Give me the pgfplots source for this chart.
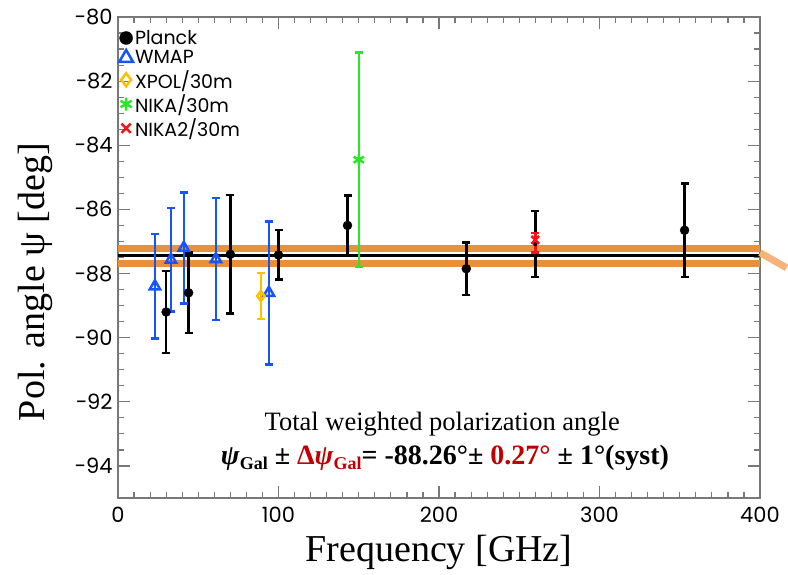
\documentclass[border=0pt]{standalone}
\usepackage{fontspec}
\setmainfont{Liberation Serif}
\newfontfamily\tickfont{Poppins}
\usepackage{pgfplots}
\pgfplotsset{compat=1.18}
\usetikzlibrary{calc}

\definecolor{wblue}{RGB}{20,85,255}
\definecolor{xgold}{RGB}{255,192,0}
\definecolor{ngreen}{RGB}{40,230,40}
\definecolor{nred}{RGB}{245,20,20}
\definecolor{band}{RGB}{232,145,58}
\definecolor{bandlt}{RGB}{245,178,122}
\definecolor{dred}{RGB}{192,0,0}
\definecolor{axgray}{RGB}{120,120,120}

% frequency [GHz], angle [deg], error [deg]
\pgfplotstableread{
f    v       e
30   -89.2   1.28
44   -88.6   1.25
70   -87.4   1.85
100  -87.42  0.77
143  -86.5   0.93
217  -87.85  0.82
353  -86.65  1.46
}\planck
\pgfplotstableread{
f    v       e
23   -88.4   1.63
33   -87.57  1.62
41   -87.2   1.73
61   -87.55  1.9
94   -88.6   2.23
}\wmap

\begin{document}
\begin{tikzpicture}
\begin{axis}[
  name=ax,
  scale only axis,
  width=642pt, height=481pt,
  xmin=0, xmax=400, ymin=-95, ymax=-80,
  xtick={0,100,200,300,400},
  xticklabels={0,100,200,300,400},
  ytick={-94,-92,-90,-88,-86,-84,-82,-80},
  yticklabels={−94,−92,−90,−88,−86,−84,−82,−80},
  minor x tick num=9,
  minor y tick num=3,
  major tick length=12pt,
  minor tick length=6pt,
  tick style={axgray, line width=1.2pt},
  axis line style={axgray, line width=1.5pt},
  tick label style={font=\tickfont\fontsize{21}{21}\selectfont},
  xticklabel style={yshift=-8pt, inner ysep=1pt},
  yticklabel style={xshift=-2pt},
  xlabel={Frequency [GHz]},
  ylabel={Pol. angle ψ [deg]},
  every axis x label/.style={at={(axis description cs:0.5,-0.113)}, anchor=center,
    font=\fontsize{38}{38}\selectfont, inner sep=0pt},
  every axis y label/.style={at={(axis description cs:-0.129,0.449)}, rotate=90, anchor=center,
    font=\fontsize{38}{38}\selectfont},
  clip=false,
  legend style={at={(axis description cs:0,1)}, anchor=north west,
    xshift=1pt, yshift=-11pt, draw=none, fill=none,
    font=\tickfont\fontsize{19}{21}\selectfont, cells={anchor=west},
    row sep=0.8pt, inner xsep=0pt, inner ysep=0pt},
  legend image code/.code={\draw[#1] plot coordinates {(6pt,0pt)};},
  error bars/y dir=both, error bars/y explicit,
  every error bar/.style={line width=2.5pt},
  error bars/error mark options={rotate=90, mark size=4pt, line width=2.5pt},
]
% weighted mean and its uncertainty band
\addplot[band, line width=7pt, forget plot] coordinates {(0,-87.21) (400,-87.21)};
\addplot[band, line width=7pt, forget plot] coordinates {(0,-87.68) (400,-87.68)};
\addplot[black, line width=3.5pt, forget plot] coordinates {(0,-87.44) (400,-87.44)};
\addplot[bandlt, line width=7pt, forget plot] coordinates {(400,-87.35) (416.5,-87.82)};

\addplot[black, only marks, mark=*, mark size=4.5pt, forget plot]
  table[x=f, y=v, y error=e] {\planck};

\addplot[wblue, only marks, mark=triangle, mark size=6pt, mark options={line width=2.5pt}, forget plot]
  table[x=f, y=v, y error=e] {\wmap};

\addplot[xgold, only marks, mark=diamond, mark size=5pt, mark options={line width=2.5pt}, forget plot]
  coordinates {(89,-88.7) +- (0,0.72)};

\addplot[ngreen, only marks, mark=asterisk, mark size=6pt, mark options={line width=2.5pt},
  error bars/error bar style={line width=2pt}, forget plot]
  coordinates {(150,-84.45) +- (0,3.35)};

\addplot[black, only marks, mark=none, forget plot]
  coordinates {(260,-87.08) +- (0,1.03)};

\addplot[nred, only marks, mark=x, mark size=5.5pt, mark options={line width=2.5pt}, forget plot]
  coordinates {(260,-86.95) += (0,0.22) -= (0,0.4)};

\addlegendimage{only marks, black, mark=*, mark size=6.5pt}
\addlegendentry{Planck}
\addlegendimage{only marks, wblue, mark=triangle, mark size=8pt, mark options={line width=2.5pt}}
\addlegendentry{WMAP}
\addlegendimage{only marks, xgold, mark=diamond, mark size=6.5pt, mark options={line width=2.5pt}}
\addlegendentry{XPOL/30m}
\addlegendimage{only marks, ngreen, mark=asterisk, mark size=6.5pt, mark options={line width=2.5pt}}
\addlegendentry{NIKA/30m}
\addlegendimage{only marks, nred, mark=x, mark size=6.5pt, mark options={line width=2.5pt}}
\addlegendentry{NIKA2/30m}

\node[font=\fontsize{26.5}{26.5}\selectfont] at (axis cs:202,-92.69) {Total weighted polarization angle};
\node[font=\bfseries\fontsize{28}{28}\selectfont] at (axis cs:203.7,-93.75)
  {\textit{ψ}\raisebox{-0.35ex}{\fontsize{18}{18}\selectfont Gal} ±
   \textcolor{dred}{Δ\textit{ψ}\raisebox{-0.35ex}{\fontsize{18}{18}\selectfont Gal}}= -88.26°±
   \textcolor{dred}{0.27°} ± 1°(syst)};
\end{axis}
\pgfresetboundingbox
\path[use as bounding box] ($(ax.south west)+(-118pt,-76pt)$) rectangle ($(ax.north east)+(28pt,17pt)$);
\end{tikzpicture}
\end{document}
